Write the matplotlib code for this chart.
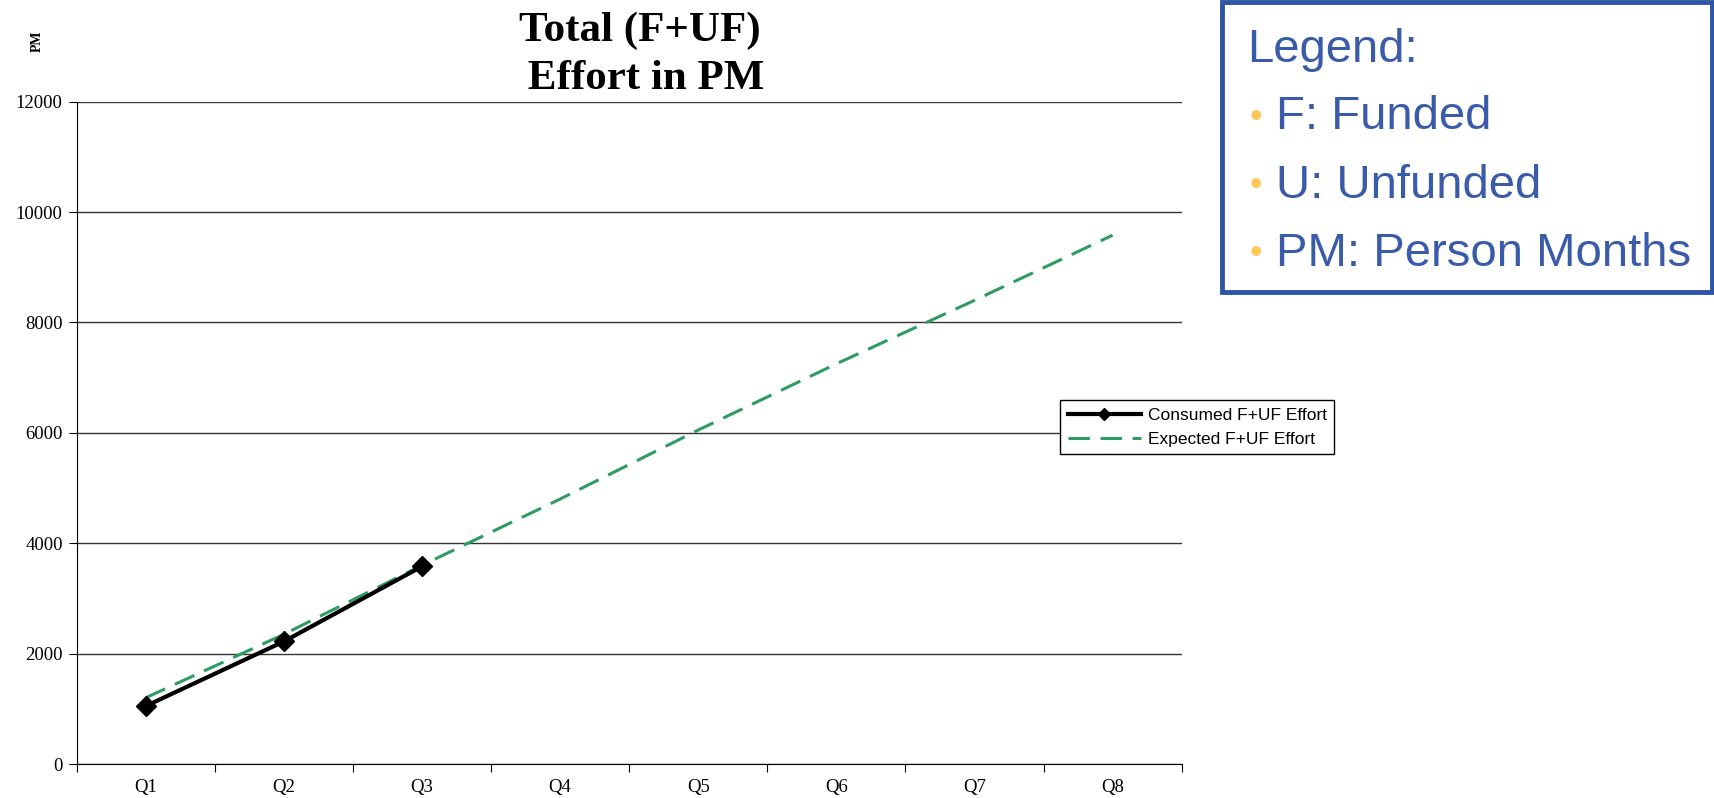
import numpy as np
import matplotlib.pyplot as plt
from matplotlib.patches import Rectangle

# data
quarters = ['Q1', 'Q2', 'Q3', 'Q4', 'Q5', 'Q6', 'Q7', 'Q8']
consumed = [1050, 2220, 3580]
expected = [1200, 2350, 3600, 4800, 6050, 7250, 8400, 9580]
yticks = [0, 2000, 4000, 6000, 8000, 10000, 12000]
notes = ['F: Funded', 'U: Unfunded', 'PM: Person Months']

fig = plt.figure(figsize=(17.15, 7.98), dpi=100)
ax = fig.add_axes([0.0447, 0.0426, 0.6443, 0.83])

x = np.arange(len(quarters)) + 0.5
ax.plot(x, expected, color='#2e9c62', lw=2.2, dashes=(7, 3.5),
        label='Expected F+UF Effort', zorder=2)
ax.plot(x[:len(consumed)], consumed, color='black', lw=3, marker='D',
        markersize=10, label='Consumed F+UF Effort', zorder=3)

ax.set_xlim(0, len(quarters))
ax.set_ylim(0, 12000)
ax.set_yticks(yticks)
ax.set_xticks(np.arange(len(quarters) + 1))
ax.set_xticklabels([])
ax.set_xticks(x, minor=True)
ax.set_xticklabels(quarters, minor=True)
ax.tick_params(axis='x', which='minor', length=0, pad=11)
ax.tick_params(axis='x', which='major', length=6, direction='out')
ax.tick_params(axis='y', length=6, direction='out', pad=4)
for lab in ax.get_xticklabels(minor=True) + ax.get_yticklabels():
    lab.set_fontfamily('Liberation Serif')
    lab.set_fontsize(13.5)

ax.grid(axis='y', color='#333333', lw=1)
ax.set_axisbelow(True)
for s in ['top', 'right']:
    ax.spines[s].set_visible(False)

ax.set_title('Total (F+UF)\n Effort in PM', fontfamily='Liberation Serif',
             fontweight='bold', fontsize=31, x=0.51, pad=9, linespacing=1.35)
fig.text(0.022, 0.948, 'PM', rotation=90, fontfamily='Liberation Serif',
         fontweight='bold', fontsize=10, ha='center', va='center')

h, l = ax.get_legend_handles_labels()
leg = ax.legend(h[::-1], l[::-1], loc='upper left', bbox_to_anchor=(0.618, 0.499),
                bbox_transform=fig.transFigure, prop={'family': 'Liberation Sans', 'size': 12.5},
                handlelength=4.2, fancybox=False, edgecolor='black', framealpha=1,
                borderpad=0.45, labelspacing=0.5, handletextpad=0.4, borderaxespad=0)
leg.get_frame().set_linewidth(1)
for ln in leg.get_lines():
    ln.set_markersize(6)

# explanation box on the right
fig.patches.append(Rectangle((0.7125, 0.634), 0.2855, 0.364, transform=fig.transFigure,
                             fill=False, edgecolor='#2e55a4', lw=3.5))
blue = '#3a5baa'
fig.text(0.727, 0.937, 'Legend:', color=blue, fontfamily='Liberation Sans',
         fontsize=34, va='center')
for i, n in enumerate(notes):
    yy = 0.853 - i * 0.0855
    fig.text(0.7285, yy, '\u2022', color='#ffc65a', fontsize=26, va='center',
             fontfamily='Liberation Sans')
    fig.text(0.744, yy, n, color=blue, fontfamily='Liberation Sans', fontsize=34,
             va='center')

fig.savefig('out.png', dpi=100)
